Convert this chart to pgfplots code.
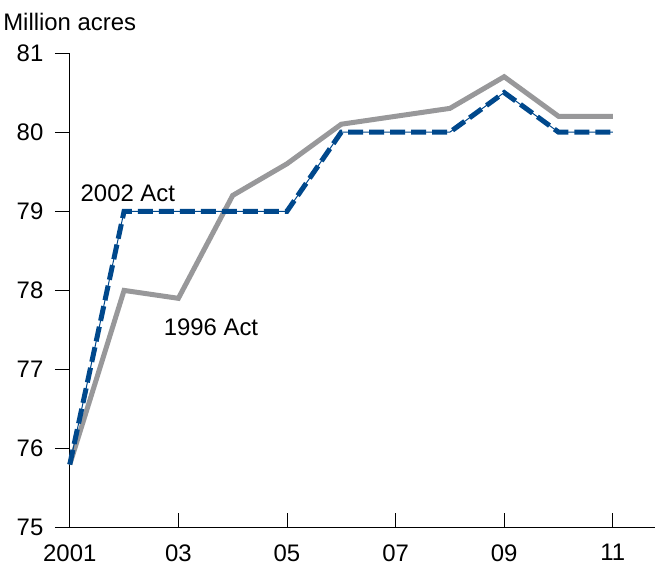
\documentclass[border=0pt]{standalone}
\usepackage{fontspec}
\setmainfont{Liberation Sans}
\usepackage{pgfplots}
\pgfplotsset{compat=1.18}
\definecolor{actgray}{RGB}{152,152,154}
\definecolor{actblue}{RGB}{0,72,140}
\begin{document}
\begin{tikzpicture}[x=1bp,y=1bp]
\begin{axis}[
  scale only axis,
  width=585bp, height=475bp,
  xmin=2001, xmax=2011.77, ymin=75, ymax=81,
  axis x line=bottom, axis y line=left,
  axis line style={-, line width=0.8pt, black},
  xtick={2001,2003,2005,2007,2009,2011},
  xticklabels={2001,03,05,07,09,11},
  ytick={75,76,77,78,79,80,81},
  xtick align=inside, ytick align=outside,
  major tick length=15bp,
  tick style={line width=0.8pt, black},
  /pgf/number format/assume math mode=true,
  tick label style={font=\fontsize{24}{28}\selectfont},
  yticklabel style={xshift=-8bp},
  xticklabel style={yshift=-13bp},
  clip=false,
]
\addplot[actgray, line width=5bp, line join=miter] coordinates {
(2001,75.8) (2002,78.0) (2003,77.9) (2004,79.2) (2005,79.6) (2006,80.1)
(2007,80.2) (2008,80.3) (2009,80.7) (2010,80.2) (2011,80.2)};
\addplot[actblue, line width=1bp] coordinates {
(2001,75.8) (2002,79.0) (2003,79.0) (2004,79.0) (2005,79.0) (2006,80.0)
(2007,80.0) (2008,80.0) (2009,80.5) (2010,80.0) (2011,80.0)};
\addplot[actblue, line width=5bp, dash pattern=on 15bp off 6bp] coordinates {
(2001,75.8) (2002,79.0) (2003,79.0) (2004,79.0) (2005,79.0) (2006,80.0)
(2007,80.0) (2008,80.0) (2009,80.5) (2010,80.0) (2011,80.0)};
\node[font=\fontsize{24}{28}\selectfont] at (axis cs:2002.07,79.23) {2002 Act};
\node[font=\fontsize{24}{28}\selectfont] at (axis cs:2003.6,77.54) {1996 Act};
\node[font=\fontsize{24}{28}\selectfont, anchor=west] at ([xshift=-70bp]axis cs:2001,81.39) {Million acres};
\path ([yshift=53bp]rel axis cs:0,1) ([yshift=-40bp]rel axis cs:1,0);
\end{axis}
\end{tikzpicture}
\end{document}
